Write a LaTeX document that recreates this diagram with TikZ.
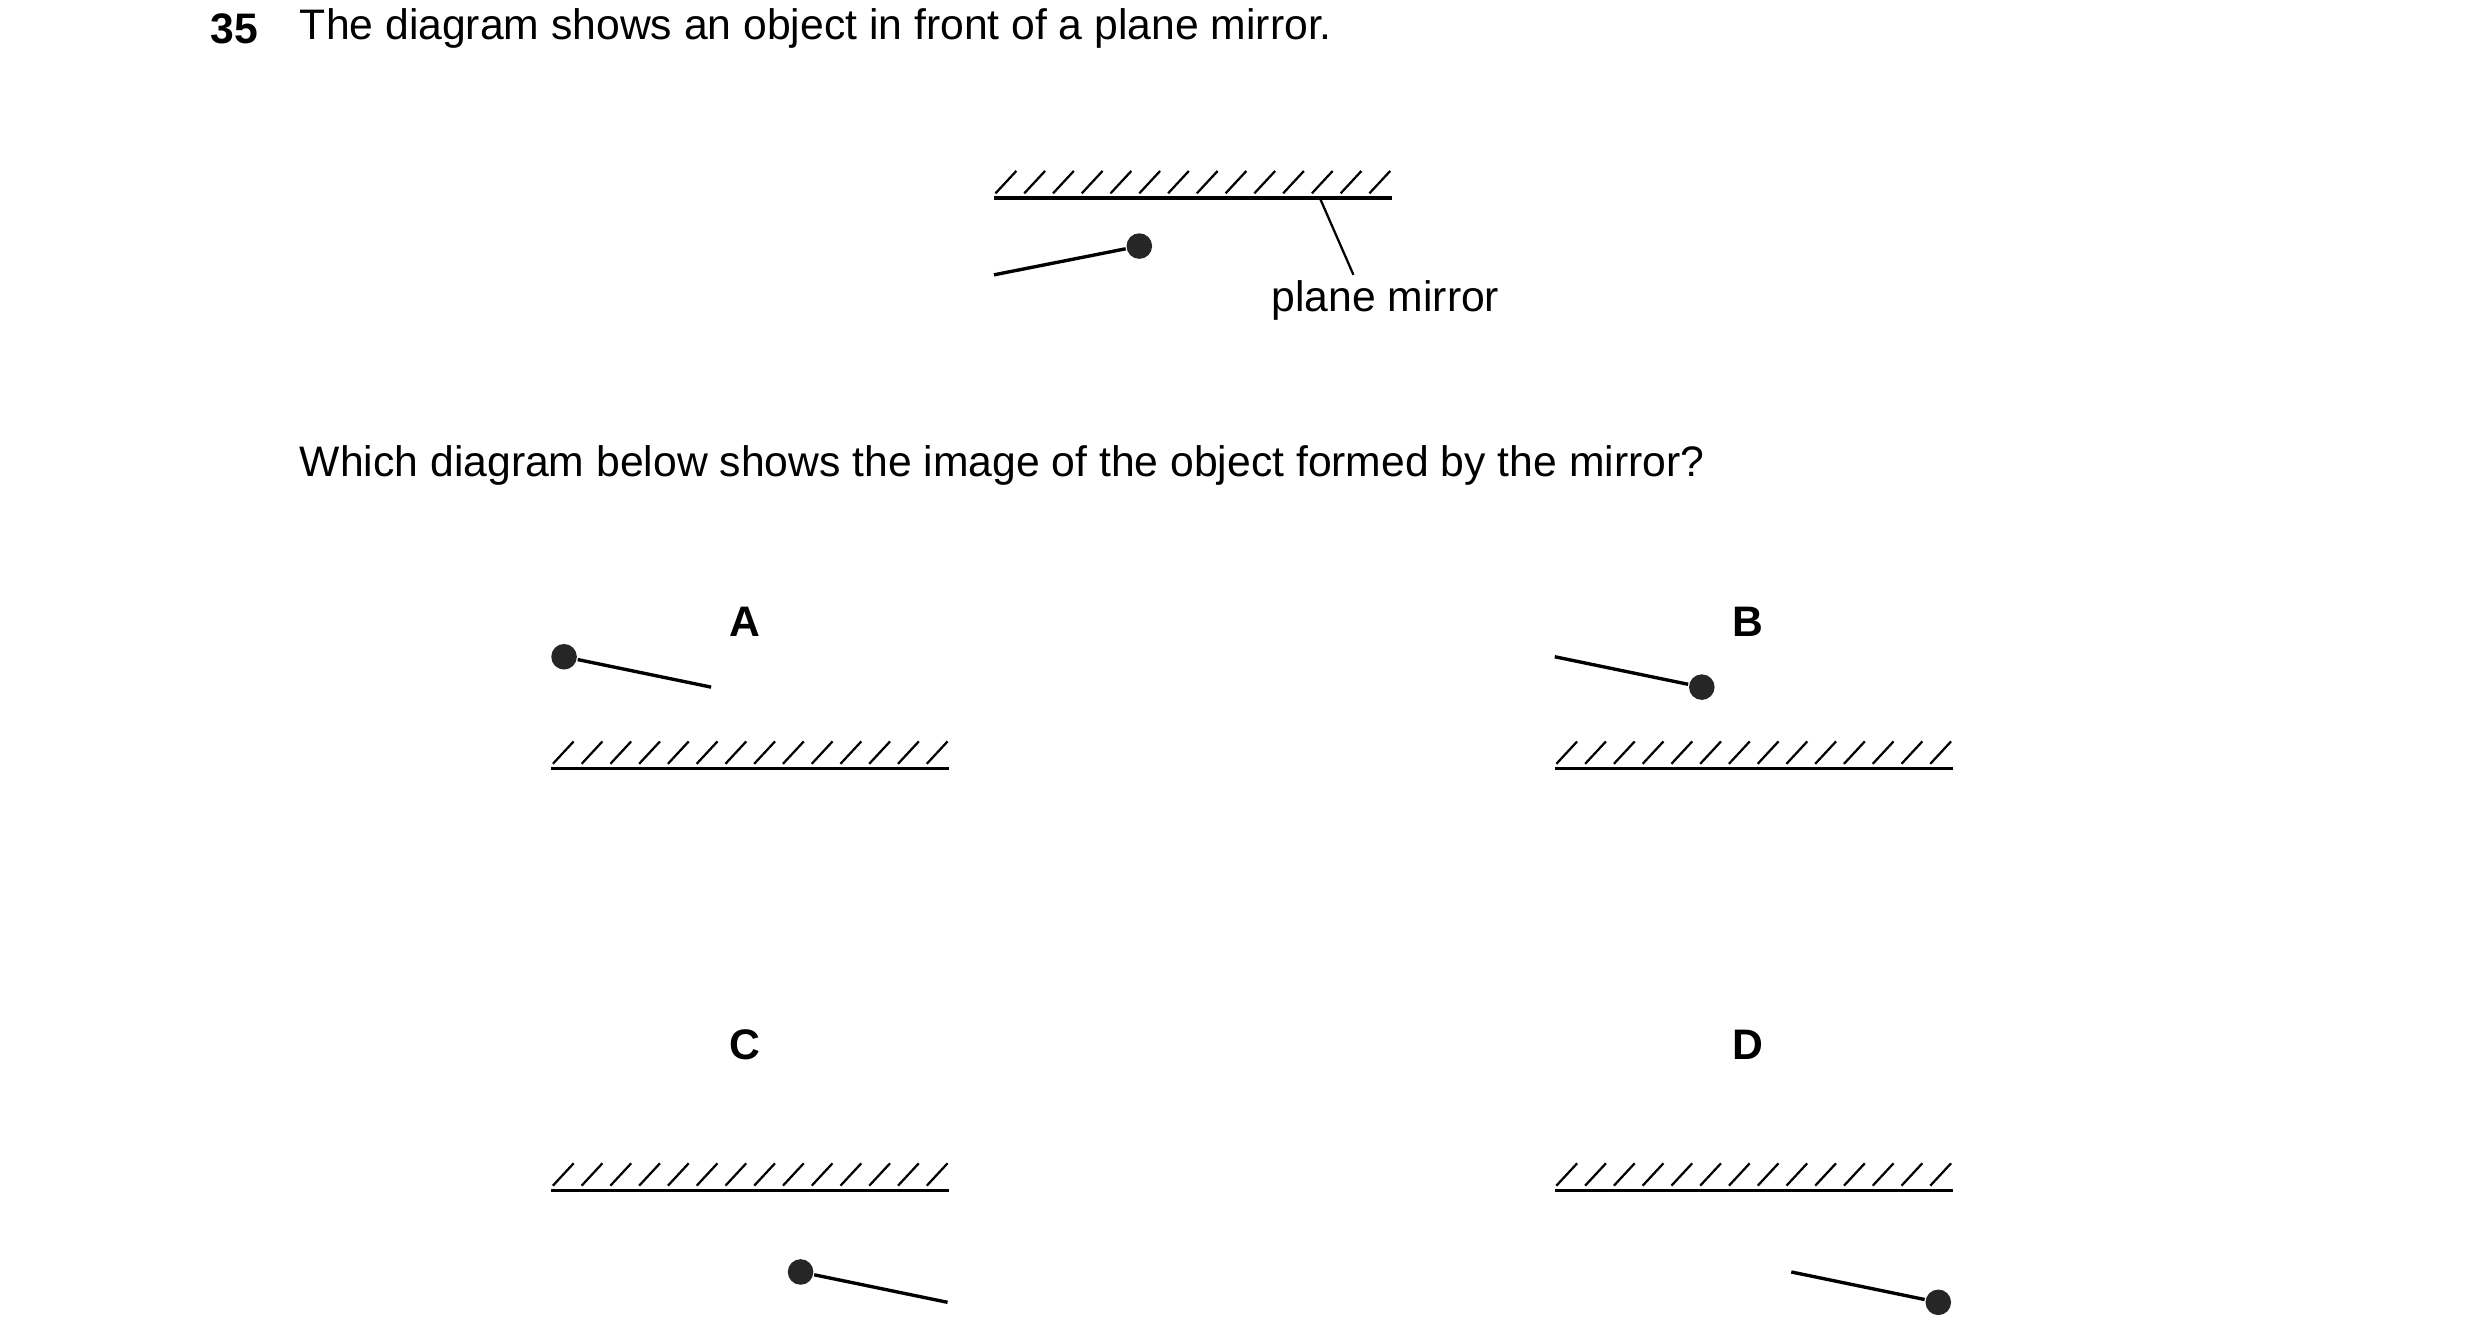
\documentclass[tikz,border=0pt]{standalone}
\usepackage{fontspec}
\setmainfont{Liberation Sans}
\tikzset{
  txt/.style={inner sep=0pt, font=\fontsize{7.6}{9}\selectfont},
  lbl/.style={inner sep=0pt, font=\bfseries\fontsize{7.6}{9}\selectfont},
  blob/.style={circle, fill=black!85, inner sep=0pt, minimum size=0.16cm},
  rod/.style={line width=0.6pt},
  hatch/.style={line width=0.4pt}
}
\newcommand{\planemirror}[3]{% name, x, y (left end)
  \coordinate (#1l) at (#2,#3);
  \coordinate (#1r) at (#2+2.49,#3);
  \draw[rod] (#1l) -- (#1r);
  \foreach \k in {0,...,13}
    \draw[hatch] (#2+0.01+\k*0.18,#3+0.03) -- ++(0.13,0.14);
}
\begin{document}
\begin{tikzpicture}[x=1cm,y=1cm]
	\useasboundingbox (0,0) rectangle (15.52,-8.40);

	\node[lbl, anchor=west] (num) at (1.31,-0.18) {35};
	\node[txt, anchor=west] (q1) at (1.87,-0.18) {The diagram shows an object in front of a plane mirror.};

	% object and mirror
	\planemirror{m}{6.22}{-1.24}
	\node[blob] (obj) at (7.13,-1.54) {};
	\coordinate (objend) at (6.22,-1.72);
	\draw[rod] (objend) -- (obj);
	\coordinate (tick) at (8.26,-1.24);
	\node[txt] (pm) at (8.67,-1.88) {plane mirror};
	\draw[hatch] (tick) -- (8.47,-1.72);

	\node[txt, anchor=west] (q2) at (1.87,-2.91) {Which diagram below shows the image of the object formed by the mirror?};

	% A
	\node[lbl] (A) at (4.66,-3.89) {A};
	\planemirror{a}{3.45}{-4.81}
	\node[blob] (adot) at (3.53,-4.11) {};
	\coordinate (aend) at (4.45,-4.30);
	\draw[rod] (adot) -- (aend);

	% B
	\node[lbl] (B) at (10.94,-3.89) {B};
	\planemirror{b}{9.73}{-4.81}
	\node[blob] (bdot) at (10.65,-4.30) {};
	\coordinate (bend) at (9.73,-4.11);
	\draw[rod] (bend) -- (bdot);

	% C
	\node[lbl] (C) at (4.66,-6.54) {C};
	\planemirror{c}{3.45}{-7.45}
	\node[blob] (cdot) at (5.01,-7.96) {};
	\coordinate (cend) at (5.93,-8.15);
	\draw[rod] (cdot) -- (cend);

	% D
	\node[lbl] (D) at (10.94,-6.54) {D};
	\planemirror{d}{9.73}{-7.45}
	\node[blob] (ddot) at (12.13,-8.15) {};
	\coordinate (dend) at (11.21,-7.96);
	\draw[rod] (dend) -- (ddot);
\end{tikzpicture}
\end{document}
